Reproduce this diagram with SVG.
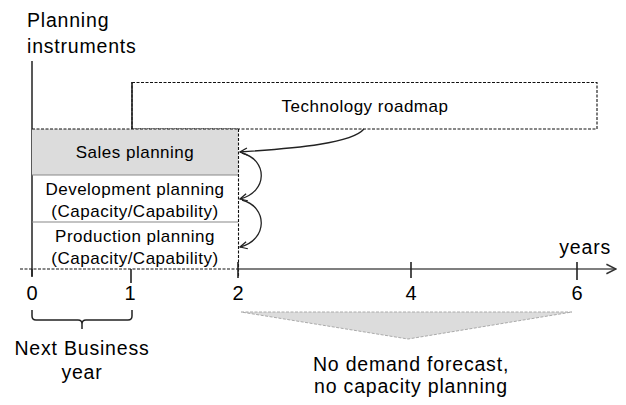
<svg xmlns="http://www.w3.org/2000/svg" width="626" height="405" viewBox="0 0 626 405">
  <defs>
    <style>
      text { font-family: "Liberation Sans", Arial, sans-serif; fill: #000; }
      .lbl { font-size: 17px; letter-spacing: 0.5px; text-anchor: middle; }
      .big { font-size: 19.5px; letter-spacing: 0.8px; }
      .num { font-size: 20px; text-anchor: middle; }
      .dash { fill: none; stroke: #111; stroke-width: 1.1; stroke-dasharray: 3 1.5; }
      .div { stroke: #888; stroke-width: 1.2; }
      .tick { stroke: #222; stroke-width: 1.6; }
      .conn { fill: none; stroke: #222; stroke-width: 1.3; marker-end: url(#ah); }
    </style>
    <marker id="ah" viewBox="0 0 10 10" refX="9" refY="5" markerWidth="9" markerHeight="9" orient="auto" markerUnits="userSpaceOnUse">
      <path d="M1,1 L9,5 L1,9" fill="none" stroke="#222" stroke-width="1.4"/>
    </marker>
    <marker id="axh" viewBox="0 0 10 10" refX="9" refY="5" markerWidth="12" markerHeight="12" orient="auto" markerUnits="userSpaceOnUse">
      <path d="M1,1 L9,5 L1,9" fill="none" stroke="#333" stroke-width="1.3"/>
    </marker>
  </defs>

  <!-- vertical axis -->
  <line x1="32" y1="61" x2="32" y2="276" stroke="#222" stroke-width="1.5"/>
  <text class="big" x="27" y="27">Planning</text>
  <text class="big" x="27" y="53">instruments</text>

  <!-- technology roadmap -->
  <g id="roadmap">
    <rect class="dash" x="132" y="82.5" width="465" height="46.5" fill="#fff"/>
    <line x1="132" y1="82" x2="132" y2="129" stroke="#222" stroke-width="1.6"/>
    <text class="lbl" x="365" y="112">Technology roadmap</text>
  </g>

  <!-- planning boxes -->
  <g id="sales">
    <rect x="32" y="129" width="206" height="46" fill="#dcdcdc"/>
    <line class="dash" x1="32" y1="129" x2="238" y2="129"/>
    <text class="lbl" x="135" y="158">Sales planning</text>
  </g>
  <g id="development">
    <line class="div" x1="32" y1="175" x2="238" y2="175"/>
    <text class="lbl" x="135" y="195">Development planning</text>
    <text class="lbl" x="135" y="217">(Capacity/Capability)</text>
  </g>
  <g id="production">
    <line class="div" x1="32" y1="222" x2="238" y2="222"/>
    <text class="lbl" x="135" y="242">Production planning</text>
    <text class="lbl" x="135" y="264">(Capacity/Capability)</text>
  </g>
  <line class="dash" x1="238.5" y1="129" x2="238.5" y2="276"/>

  <!-- time axis -->
  <g id="axis">
    <line class="dash" x1="20" y1="269" x2="238" y2="269"/>
    <line x1="238" y1="269" x2="616" y2="269" stroke="#555" stroke-width="1.5" marker-end="url(#axh)"/>
    <line class="tick" x1="32" y1="269" x2="32" y2="277"/>
    <line class="tick" x1="131" y1="269" x2="131" y2="283"/>
    <line class="tick" x1="238" y1="262" x2="238" y2="278"/>
    <line class="tick" x1="411" y1="262" x2="411" y2="278"/>
    <line class="tick" x1="577" y1="262" x2="577" y2="280"/>
    <text class="num" x="32" y="300">0</text>
    <text class="num" x="130" y="300">1</text>
    <text class="num" x="238" y="300">2</text>
    <text class="num" x="411" y="300">4</text>
    <text class="num" x="577" y="300">6</text>
    <text class="big" x="611" y="254" text-anchor="end">years</text>
  </g>

  <!-- next business year brace -->
  <g id="next-year">
    <path d="M32,310 L32,316 Q32,320 36,320 L78,320 Q82,320 82,324 L82,329 M82,324 Q82,320 86,320 L128,320 Q132,320 132,316 L132,310" fill="none" stroke="#222" stroke-width="1.5"/>
    <text class="big" x="82" y="355" text-anchor="middle">Next Business</text>
    <text class="big" x="82" y="379" text-anchor="middle">year</text>
  </g>

  <!-- no forecast region -->
  <g id="no-forecast">
    <polygon points="241,312 572,312 408,339" fill="#dcdcdc" stroke="#aaa" stroke-width="1" stroke-dasharray="3 1.5"/>
    <text class="big" x="411" y="371" text-anchor="middle">No demand forecast,</text>
    <text class="big" x="411" y="393" text-anchor="middle">no capacity planning</text>
  </g>

  <!-- connectors -->
  <g id="connectors">
    <path class="conn" d="M364,129 C352,143 300,148 240,152"/>
    <path class="conn" d="M242,153 C268,160 268,192 240,199"/>
    <path class="conn" d="M242,200 C268,207 268,240 240,247"/>
  </g>
</svg>
